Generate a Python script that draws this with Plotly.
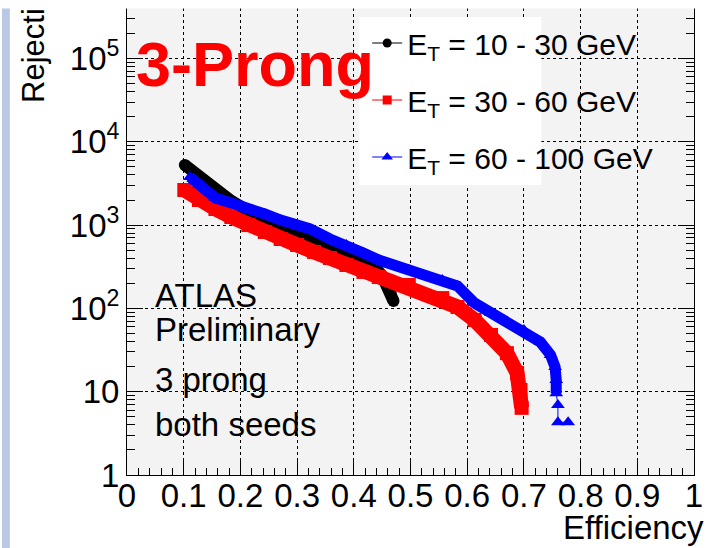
import plotly.graph_objects as go

# ---- data: rejection vs. efficiency for three E_T bins (3-prong, both seeds) ----
eff_10_30 = [0.102, 0.127, 0.156, 0.184, 0.214, 0.243, 0.271, 0.300, 0.330, 0.358,
             0.387, 0.417, 0.439, 0.450, 0.458, 0.465, 0.470]
rej_10_30 = [5270, 3780, 2640, 1950, 1480, 1220, 975, 805, 645, 546,
             450, 371, 305, 245, 191, 153, 123]

eff_30_60 = [0.101, 0.127, 0.156, 0.184, 0.214, 0.243, 0.271, 0.300, 0.330, 0.358,
             0.387, 0.417, 0.444, 0.497, 0.556, 0.583, 0.613, 0.642, 0.670, 0.688,
             0.694, 0.696]
rej_30_60 = [2640, 2000, 1560, 1250, 1000, 826, 681, 577, 475, 403,
             332, 274, 238, 191, 133, 104, 72.6, 48, 29, 16.8,
             10.5, 6.4]

eff_60_100 = [0.111, 0.127, 0.156, 0.184, 0.214, 0.243, 0.271, 0.300, 0.323, 0.358,
              0.387, 0.417, 0.444, 0.497, 0.556, 0.583, 0.613, 0.642, 0.670, 0.700,
              0.729, 0.747, 0.755, 0.757, 0.757, 0.760, 0.760, 0.778]
rej_60_100 = [3780, 3030, 2115, 1840, 1520, 1360, 1150, 1000, 900, 681,
              577, 462, 381, 289, 219, 186, 116, 88, 69, 55,
              39.5, 27.6, 19.8, 13.8, 9.6, 6.9, 4.3, 4.3]

series_names = ["E<sub>T</sub> = 10 - 30 GeV",
                "E<sub>T</sub> = 30 - 60 GeV",
                "E<sub>T</sub> = 60 - 100 GeV"]

x_tick_vals = [0, 0.1, 0.2, 0.3, 0.4, 0.5, 0.6, 0.7, 0.8, 0.9, 1]
x_tick_text = ["0", "0.1", "0.2", "0.3", "0.4", "0.5", "0.6", "0.7", "0.8", "0.9", "1"]
y_tick_vals = [1, 10, 100, 1e3, 1e4, 1e5]
y_tick_text = ["1", "10", "10<sup>2</sup>", "10<sup>3</sup>", "10<sup>4</sup>", "10<sup>5</sup>"]

# ---- page geometry (pixels) ----
W, H = 711, 548
ML, MR, MT, MB = 127, 8, 8, 73
PW, PH = W - ML - MR, H - MT - MB
FONT = "Liberation Sans"


def px_x(px):
    return (px - ML) / PW


def px_y(py):
    return (H - MB - py) / PH


styles = [
    dict(color="#000000", symbol="circle", size=12, band=12, legsize=9),
    dict(color="#ff0000", symbol="square", size=14, band=15, legsize=9),
    dict(color="#0000ff", symbol="triangle-up", size=12, band=11, legsize=10),
]
datasets = [(eff_10_30, rej_10_30, len(eff_10_30)),
            (eff_30_60, rej_30_60, len(eff_30_60)),
            (eff_60_100, rej_60_100, len(eff_60_100) - 3)]

fig = go.Figure()

for (xs, ys, band_end), st in zip(datasets, styles):
    # densely packed markers appear as a solid band
    fig.add_trace(go.Scatter(
        x=xs[:band_end], y=ys[:band_end], mode="lines",
        line=dict(color=st["color"], width=st["band"]),
        showlegend=False, hoverinfo="skip"))
    fig.add_trace(go.Scatter(
        x=xs, y=ys, mode="lines+markers",
        line=dict(color=st["color"], width=1),
        marker=dict(color=st["color"], symbol=st["symbol"], size=st["size"]),
        showlegend=False))

for name, st in zip(series_names, styles):
    fig.add_trace(go.Scatter(
        x=[None], y=[None], mode="lines+markers", name=name,
        legendgroup=name,
        line=dict(color=st["color"], width=1),
        marker=dict(color=st["color"], symbol=st["symbol"], size=st["legsize"])))

fig.update_xaxes(
    range=[0, 1], tickvals=x_tick_vals, ticktext=x_tick_text,
    ticks="inside", ticklen=15, tickwidth=1, tickcolor="black",
    showline=True, linecolor="black", linewidth=1, mirror=False,
    showgrid=True, gridcolor="black", griddash="dot", gridwidth=1,
    zeroline=False, ticklabeloverflow="allow", ticklabelstandoff=-9,
    tickfont=dict(family=FONT, size=33, color="black"),
    minor=dict(tickvals=[round(i * 0.02, 2) for i in range(51) if i % 5],
               ticks="inside", ticklen=7, tickcolor="black", showgrid=False),
)
fig.update_yaxes(
    type="log", range=[0, 5.606], tickvals=y_tick_vals, ticktext=y_tick_text,
    ticks="inside", ticklen=16, tickwidth=1, tickcolor="black",
    showline=True, linecolor="black", linewidth=1, mirror="ticks",
    showgrid=True, gridcolor="black", griddash="dot", gridwidth=1,
    zeroline=False,
    tickfont=dict(family=FONT, size=33, color="black"),
    minor=dict(tickvals=[m * 10 ** d for d in range(6) for m in range(2, 10)],
               ticks="inside", ticklen=8, tickcolor="black", showgrid=False),
)

shapes = [
    # legend panel
    dict(type="rect", xref="paper", yref="paper", layer="above",
         x0=px_x(363), x1=px_x(548), y0=px_y(185), y1=px_y(17),
         fillcolor="white", line=dict(width=0)),
    # slide edge strip
    dict(type="rect", xref="paper", yref="paper", layer="below",
         x0=px_x(0), x1=px_x(8), y0=px_y(H), y1=px_y(7),
         fillcolor="#b9c9e5", line=dict(width=0)),
]

annotations = [
    dict(text="Rejection", textangle=-90, xref="paper", yref="paper",
         x=px_x(32), y=px_y(38.5), xanchor="center", yanchor="middle",
         showarrow=False, font=dict(family=FONT, size=31, color="black")),
    dict(text="Efficiency", xref="paper", yref="paper",
         x=px_x(715), y=px_y(527), xanchor="right", yanchor="middle",
         showarrow=False, font=dict(family=FONT, size=33, color="black")),
    dict(text="3-Prong", xref="paper", yref="paper",
         x=px_x(134), y=px_y(64), xanchor="left", yanchor="middle",
         showarrow=False, font=dict(family=FONT, size=63, color="#ff0000", weight="bold")),
]
for txt, yc in [("ATLAS", 295.5), ("Preliminary", 329.5), ("3 prong", 379), ("both seeds", 424.5)]:
    annotations.append(dict(text=txt, xref="paper", yref="paper",
                            x=px_x(153), y=px_y(yc), xanchor="left", yanchor="middle",
                            showarrow=False, font=dict(family=FONT, size=33, color="black")))
# white top margin strip
annotations.append(dict(text=" ", xref="paper", yref="paper",
                        x=px_x(W / 2), y=px_y(4), xanchor="center", yanchor="middle",
                        width=W + 20, height=6, borderpad=1, bgcolor="white",
                        showarrow=False, font=dict(size=4)))

fig.update_layout(
    width=W, height=H,
    margin=dict(l=ML, r=MR, t=MT, b=MB),
    paper_bgcolor="white", plot_bgcolor="#f3f3f3",
    showlegend=True,
    legend=dict(x=px_x(371), y=px_y(17), xanchor="left", yanchor="top",
                bgcolor="rgba(0,0,0,0)", borderwidth=0,
                font=dict(family=FONT, size=30, color="black"),
                traceorder="grouped", tracegroupgap=15, itemwidth=30),
    shapes=shapes, annotations=annotations,
)

fig.write_html("out.html")
